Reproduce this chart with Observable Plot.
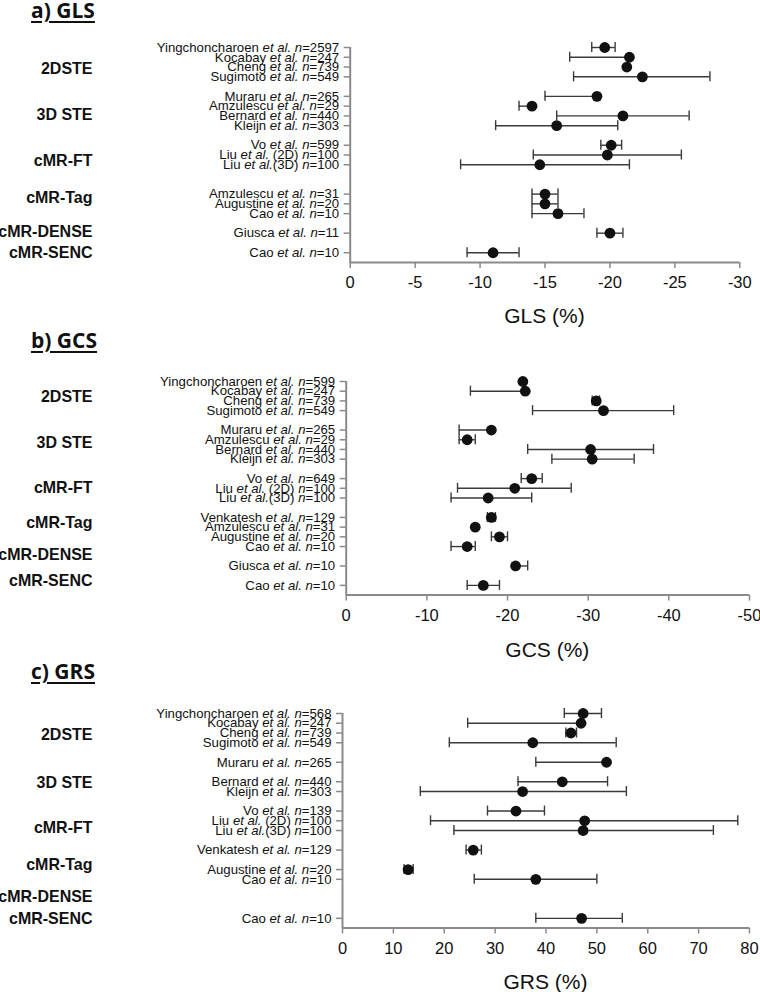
<!DOCTYPE html>
<html><head><meta charset="utf-8">
<script src="https://cdn.jsdelivr.net/npm/d3@7"></script>
<script src="https://cdn.jsdelivr.net/npm/@observablehq/plot@0.6"></script>
<style>
body{margin:0;background:#fff;}
#root{position:relative;width:760px;height:992px;overflow:hidden;background:#fff;font-family:"Liberation Sans",Arial,sans-serif;}
.title{position:absolute;left:31px;font-family:"Open Sans",sans-serif;font-weight:700;font-size:21px;line-height:1;text-decoration:underline;text-decoration-thickness:2px;text-underline-offset:3px;color:#111;white-space:nowrap;}
.xlabel{position:absolute;font-family:"Liberation Sans",Arial,sans-serif;font-size:21px;line-height:1;color:#111;transform:translateX(-50%);white-space:nowrap;}
.panel{position:absolute;left:0;}
</style></head><body><div id="root"></div>
<script>
// ---- shared row template (categories, in display order; null = gap) ----
const slotMethod = ["2DSTE","2DSTE","2DSTE","2DSTE",null,
  "3D STE","3D STE","3D STE","3D STE",null,
  "cMR-FT","cMR-FT","cMR-FT",null,
  "cMR-Tag","cMR-Tag","cMR-Tag","cMR-Tag",null,
  "cMR-DENSE",null,"cMR-SENC"];
const methods = ["2DSTE","3D STE","cMR-FT","cMR-Tag","cMR-DENSE","cMR-SENC"];

// ---- a) GLS ----
const glsLabels = ["Yingchoncharoen et al. n=2597","Kocabay et al. n=247","Cheng et al. n=739","Sugimoto et al. n=549",null,
  "Muraru et al. n=265","Amzulescu et al. n=29","Bernard et al. n=440","Kleijn et al. n=303",null,
  "Vo et al. n=599","Liu et al. (2D) n=100","Liu et al.(3D) n=100",null,
  null,"Amzulescu et al. n=31","Augustine et al. n=20","Cao et al. n=10",null,
  "Giusca et al. n=11",null,"Cao et al. n=10"];
const glsMean = [-19.6,-21.5,-21.3,-22.5,null,-19.0,-14.0,-21.0,-15.9,null,-20.1,-19.8,-14.6,null,null,-15.0,-15.0,-16.0,null,-20.0,null,-11.0];
const glsLow  = [-18.6,-16.9,null,-17.2,null,-15.0,-13.0,-15.9,-11.2,null,-19.3,-14.1,-8.5,null,null,-14.0,-14.0,-14.0,null,-19.0,null,-9.0];
const glsHigh = [-20.4,null,null,-27.7,null,null,null,-26.1,-20.6,null,-20.9,-25.5,-21.5,null,null,-16.0,-16.0,-18.0,null,-21.0,null,-13.0];
const glsTicks = [0,-5,-10,-15,-20,-25,-30];

// ---- b) GCS ----
const gcsLabels = ["Yingchoncharoen et al. n=599","Kocabay et al. n=247","Cheng et al. n=739","Sugimoto et al. n=549",null,
  "Muraru et al. n=265","Amzulescu et al. n=29","Bernard et al. n=440","Kleijn et al. n=303",null,
  "Vo et al. n=649","Liu et al. (2D) n=100","Liu et al.(3D) n=100",null,
  "Venkatesh et al. n=129","Amzulescu et al. n=31","Augustine et al. n=20","Cao et al. n=10",null,
  "Giusca et al. n=10",null,"Cao et al. n=10"];
const gcsMean = [-21.9,-22.2,-31.0,-31.9,null,-18.0,-15.0,-30.3,-30.5,null,-23.0,-20.9,-17.6,null,-18.0,-16.0,-19.0,-15.0,null,-21.0,null,-17.0];
const gcsLow  = [null,-15.4,-30.5,-23.1,null,-14.0,-14.0,-22.5,-25.5,null,-21.7,-13.8,-13.0,null,-17.5,null,-18.0,-13.0,null,null,null,-15.0];
const gcsHigh = [null,null,-31.4,-40.6,null,null,-16.0,-38.1,-35.7,null,-24.3,-27.9,-23.0,null,-18.5,null,-20.0,-16.0,null,-22.5,null,-19.0];
const gcsTicks = [0,-10,-20,-30,-40,-50];

// ---- c) GRS ----
const grsLabels = ["Yingchoncharoen et al. n=568","Kocabay et al. n=247","Cheng et al. n=739","Sugimoto et al. n=549",null,
  "Muraru et al. n=265",null,"Bernard et al. n=440","Kleijn et al. n=303",null,
  "Vo et al. n=139","Liu et al. (2D) n=100","Liu et al.(3D) n=100",null,
  "Venkatesh et al. n=129",null,"Augustine et al. n=20","Cao et al. n=10",null,
  null,null,"Cao et al. n=10"];
const grsMean = [47.3,46.9,44.9,37.4,null,51.9,null,43.2,35.4,null,34.1,47.6,47.3,null,25.7,null,12.9,38.0,null,null,null,47.0];
const grsLow  = [43.6,24.6,43.9,21.0,null,38.0,null,34.5,15.3,null,28.5,17.3,21.9,null,24.3,null,12.1,25.9,null,null,null,38.0];
const grsHigh = [50.9,null,46.0,53.8,null,null,null,52.1,55.8,null,39.7,77.7,72.9,null,27.3,null,13.9,50.0,null,null,null,55.0];
const grsTicks = [0,10,20,30,40,50,60,70,80];

// ---- layout (page pixels; group label rows in slot units) ----
const panels = [
  {title:"a) GLS", xTitle:"GLS (%)", labels:glsLabels, mean:glsMean, low:glsLow, high:glsHigh, ticks:glsTicks,
   row0:46.7, axisY:261.7, left:349.7, right:739.3, titleTop:-0.3, xTitleTop:305.2,
   groupAt:[2.2, 6.9, 11.6, 15.4, 18.9, 21.05]},
  {title:"b) GCS", xTitle:"GCS (%)", labels:gcsLabels, mean:gcsMean, low:gcsLow, high:gcsHigh, ticks:gcsTicks,
   row0:380.7, axisY:594.3, left:345.7, right:749, titleTop:329.7, xTitleTop:638.9,
   groupAt:[1.56, 6.28, 11.0, 14.6, 17.85, 20.55]},
  {title:"c) GRS", xTitle:"GRS (%)", labels:grsLabels, mean:grsMean, low:grsLow, high:grsHigh, ticks:grsTicks,
   row0:712.7, axisY:927.3, left:342, right:749, titleTop:660.7, xTitleTop:970.5,
   groupAt:[2.18, 7.1, 11.7, 15.5, 18.8, 21.1]}
];

const root = document.getElementById("root");
const AXIS = "#8a8a8a", BAR = "#3a3a3a", INK = "#111";
const nSlots = slotMethod.length;

function italicize(svg) {
  svg.querySelectorAll("text").forEach(t => {
    const s = t.textContent;
    if (!/et al\./.test(s)) return;
    const parts = s.split(/(et al\.|n(?==))/);
    t.textContent = "";
    for (const p of parts) {
      if (!p) continue;
      const ts = document.createElementNS("http://www.w3.org/2000/svg", "tspan");
      if (p === "et al." || p === "n") ts.setAttribute("font-style", "italic");
      ts.textContent = p;
      t.appendChild(ts);
    }
  });
}

for (const p of panels) {
  const mt = 14, mb = 42;
  const innerH = p.axisY - p.row0;
  const height = mt + innerH + mb;
  const rows = [];
  p.mean.forEach((v, i) => { if (v != null) rows.push({slot: i, v, lo: p.low[i], hi: p.high[i]}); });
  const bars = rows.filter(r => r.lo != null || r.hi != null)
    .map(r => ({slot: r.slot, x1: r.lo ?? r.v, x2: r.hi ?? r.v}));
  const caps = [];
  rows.forEach(r => { if (r.lo != null) caps.push({slot: r.slot, x: r.lo}); if (r.hi != null) caps.push({slot: r.slot, x: r.hi}); });
  const tickSlots = p.labels.map((l, i) => l != null ? i : -1).filter(i => i >= 0);
  const groupRows = methods.map((m, j) => ({name: m, pos: p.groupAt[j]}));
  const last = p.ticks[p.ticks.length - 1];

  const svg = Plot.plot({
    width: 760, height,
    marginTop: mt, marginBottom: mb, marginLeft: p.left, marginRight: 760 - p.right,
    x: {domain: [0, last]},
    y: {domain: [0, nSlots], reverse: true},
    style: {fontFamily: "'Liberation Sans', Arial, sans-serif", fontSize: "13px", color: INK, background: "transparent", overflow: "visible"},
    marks: [
      Plot.ruleX([0], {stroke: AXIS, strokeWidth: 2}),
      Plot.ruleY([nSlots], {stroke: AXIS, strokeWidth: 2}),
      Plot.axisX(p.ticks, {tickSize: 6, tickPadding: 8, tickFormat: d => String(d), fontSize: 16.5, stroke: AXIS, strokeWidth: 1.5, fill: INK, label: null}),
      Plot.axisY(tickSlots, {tickSize: 6, tickPadding: 5, tickFormat: i => p.labels[i], fontSize: 13.2,
        stroke: AXIS, strokeWidth: 1.5, fill: INK, label: null}),
      Plot.text(groupRows, {y: "pos", text: "name", frameAnchor: "left", dx: 92 - p.left, textAnchor: "end", fontWeight: "bold", fontSize: 16, fill: INK}),
      Plot.ruleY(bars, {y: "slot", x1: "x1", x2: "x2", stroke: BAR, strokeWidth: 1.4}),
      Plot.ruleX(caps, {x: "x", y1: "slot", y2: "slot", insetTop: -5, insetBottom: -5, stroke: BAR, strokeWidth: 1.4}),
      Plot.dot(rows, {x: "v", y: "slot", r: 5.4, fill: INK, stroke: null})
    ]
  });
  italicize(svg);
  const wrap = document.createElement("div");
  wrap.className = "panel";
  wrap.style.top = (p.row0 - mt) + "px";
  wrap.appendChild(svg);
  root.appendChild(wrap);

  const t = document.createElement("div");
  t.className = "title"; t.textContent = p.title; t.style.top = p.titleTop + "px";
  root.appendChild(t);
  const xl = document.createElement("div");
  xl.className = "xlabel"; xl.textContent = p.xTitle; xl.style.top = p.xTitleTop + "px";
  xl.style.left = ((p.left + p.right) / 2) + "px";
  root.appendChild(xl);
}
</script></body></html>
